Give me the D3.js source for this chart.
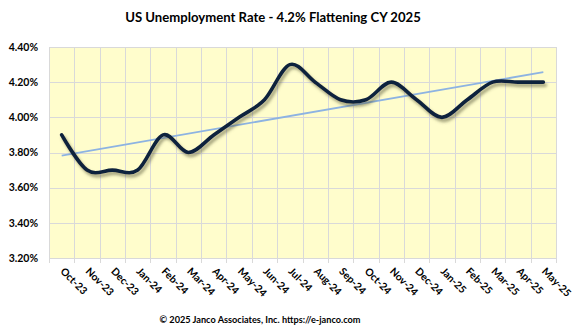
<!DOCTYPE html>
<html><head><meta charset="utf-8">
<script src="https://cdn.jsdelivr.net/npm/d3@7"></script>
<style>
html,body{margin:0;padding:0;background:#fff;}
svg{display:block;}
text{font-family:Lato,"Open Sans",sans-serif;}
</style></head>
<body><svg id="c" width="584" height="333"></svg>
<script>
const categories = ["Oct-23","Nov-23","Dec-23","Jan-24","Feb-24","Mar-24","Apr-24","May-24","Jun-24","Jul-24","Aug-24","Sep-24","Oct-24","Nov-24","Dec-24","Jan-25","Feb-25","Mar-25","Apr-25","May-25"];
const rates = [3.9,3.7,3.7,3.7,3.9,3.8,3.9,4.0,4.1,4.3,4.2,4.1,4.1,4.2,4.1,4.0,4.1,4.2,4.2,4.2];
const yTicks = [3.2,3.4,3.6,3.8,4.0,4.2,4.4];
const titleText = "US Unemployment Rate - 4.2% Flattening CY 2025";
const footerText = "\u00a9 2025 Janco Associates, Inc. https://e-janco.com";

const svg = d3.select("#c");
const L = 49, R = 556, T = 47, B = 258;
const x = d3.scaleBand().domain(categories).range([L, R]).padding(0);
const y = d3.scaleLinear().domain([3.2, 4.4]).range([B, T]);
const cx = c => x(c) + x.bandwidth()/2;

const defs = svg.append("defs");
const f = defs.append("filter").attr("id","sh").attr("x","-10%").attr("y","-20%").attr("width","130%").attr("height","150%");
f.append("feDropShadow").attr("dx",2).attr("dy",3).attr("stdDeviation",1.4).attr("flood-color","#5a5a3a").attr("flood-opacity",0.55);

// plot background
svg.append("rect").attr("x",L).attr("y",T).attr("width",R-L).attr("height",B-T).attr("fill","#FFFDCC");

// grid
const g = svg.append("g");
g.selectAll("line.h").data(yTicks).join("line")
  .attr("x1",L).attr("x2",R).attr("y1",d=>Math.round(y(d))+0.5).attr("y2",d=>Math.round(y(d))+0.5)
  .attr("stroke","#d9d9d9").attr("stroke-width",1);
const bounds = categories.map(c=>x(c)).concat([R]);
g.selectAll("line.v").data(bounds).join("line")
  .attr("x1",d=>Math.round(d)+0.5).attr("x2",d=>Math.round(d)+0.5).attr("y1",T).attr("y2",B+5)
  .attr("stroke","#d9d9d9").attr("stroke-width",1);

// y labels
svg.append("g").selectAll("text").data(yTicks).join("text")
  .attr("x",38).attr("y",d=>y(d)).attr("dy","0.35em").attr("text-anchor","end")
  .attr("font-size",10.5).attr("font-weight","bold").attr("fill","#000")
  .text(d=>d.toFixed(2)+"%");

// x labels
svg.append("g").selectAll("text").data(categories).join("text")
  .attr("transform",d=>`translate(${cx(d)-2},${272}) rotate(45)`)
  .attr("font-size",10.3).attr("font-weight","bold").attr("fill","#000")
  .text(d=>d);

// trendline (least squares on the data)
const n = rates.length, mx = (n-1)/2, my = d3.mean(rates);
let sxy=0, sxx=0;
rates.forEach((v,i)=>{sxy+=(i-mx)*(v-my); sxx+=(i-mx)*(i-mx);});
const slope = sxy/sxx, icpt = my - slope*mx;
svg.append("line")
  .attr("x1",cx(categories[0])).attr("y1",y(icpt))
  .attr("x2",cx(categories[n-1])).attr("y2",y(icpt+slope*(n-1)))
  .attr("stroke","#8DB3E2").attr("stroke-width",1.8);

// main line
const line = d3.line().x((d,i)=>cx(categories[i])).y(d=>y(d)).curve(d3.curveCatmullRom.alpha(0));
svg.append("path").datum(rates).attr("d",line)
  .attr("fill","none").attr("stroke","#0F213D").attr("stroke-width",3.6)
  .attr("stroke-linecap","round").attr("stroke-linejoin","round").attr("filter","url(#sh)");

// title
const t = svg.append("text").attr("x",273).attr("y",22).attr("text-anchor","middle")
  .attr("font-size",15).attr("font-weight","bold").attr("fill","#000").text(titleText);
let w = t.node().getComputedTextLength();
t.attr("font-size",15*296/w);

// footer
const ft = svg.append("text").attr("x",260).attr("y",323).attr("text-anchor","middle")
  .attr("font-size",10).attr("font-weight","bold").attr("fill","#000").text(footerText);
w = ft.node().getComputedTextLength();
ft.attr("font-size",10*201/w);
</script></body></html>
